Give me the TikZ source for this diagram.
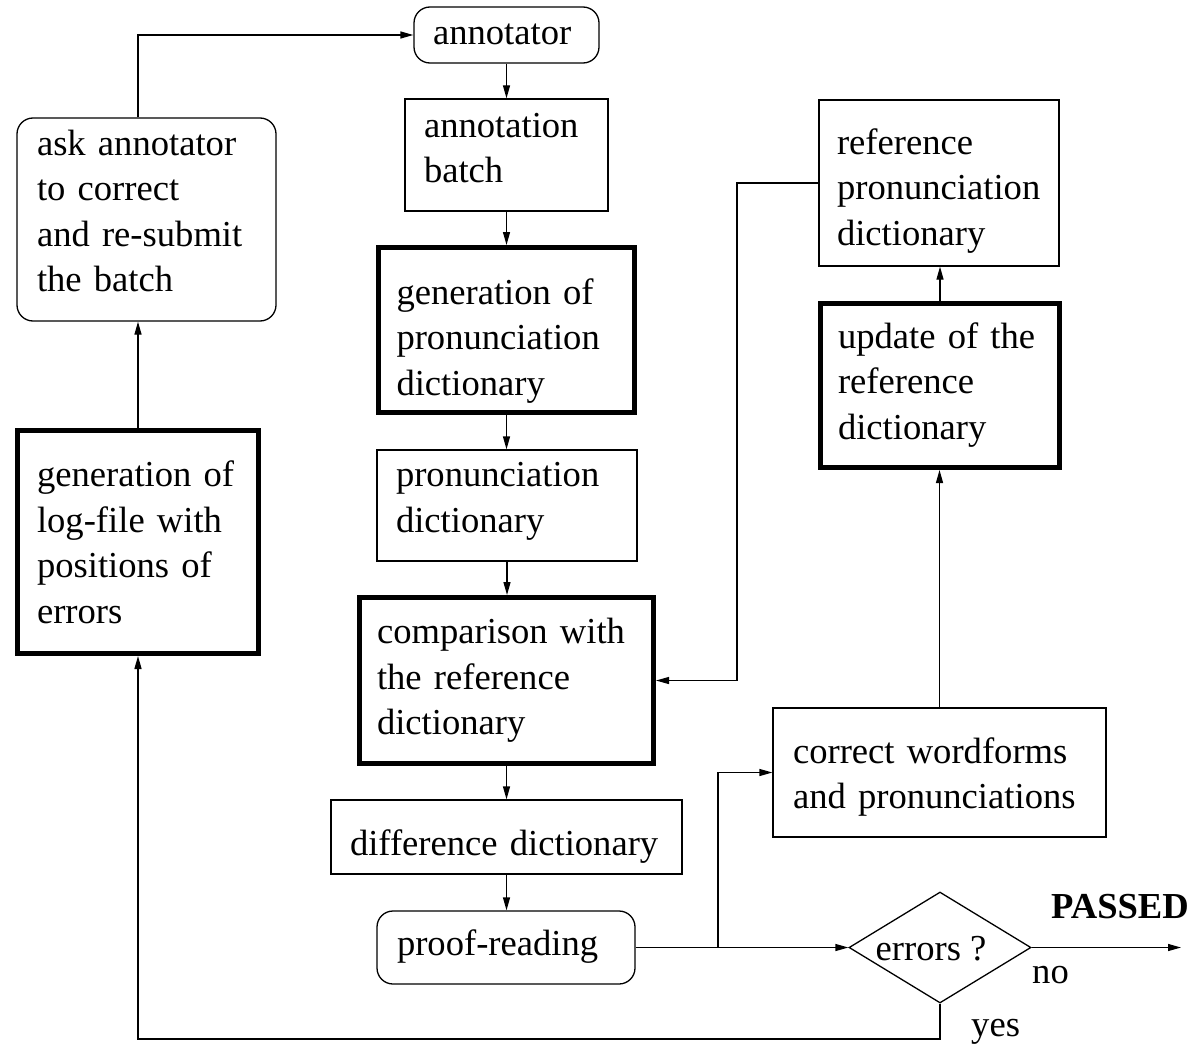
\documentclass[tikz,border=0pt]{standalone}
\usepackage{fontspec}
\setmainfont{Liberation Serif}
\usetikzlibrary{arrows.meta,shapes.geometric,calc}
\begin{document}
\begin{tikzpicture}[x=1pt,y=-1pt,
  every node/.style={font=\fontsize{36.6pt}{45.5pt}\selectfont},
  bx/.style={draw, line width=1.3pt, rectangle, align=left, inner ysep=0pt, inner xsep=19pt},
  thickbox/.style={line width=5pt},
  rnd/.style={rounded corners=16pt},
  up/.style={text height=0pt, text depth=#1},
  dn/.style={text height=#1, text depth=0pt},
  conn/.style={line width=1.3pt},
  arr/.style={conn, -{Triangle[length=13pt,width=7pt]}},
  lbl/.style={anchor=base west, inner sep=0pt},
]
\useasboundingbox (0,0) rectangle (1193,1046);

% central column
\node[bx,rnd,dn=20pt,text width=147pt,minimum height=56pt] (annot) at (506.5,35) {annotator};
\node[bx,up=36pt,text width=165pt,minimum height=112pt] (batch) at (506.5,155) {annotation\\batch};
\node[bx,thickbox,up=52pt,inner xsep=18pt,text width=220pt,minimum height=165pt] (genpron) at (506.5,330) {generation of\\pronunciation\\dictionary};
\node[bx,up=37.6pt,text width=222pt,minimum height=111pt] (pron) at (507,505.5) {pronunciation\\dictionary};
\node[bx,thickbox,up=74pt,inner xsep=17.5pt,text width=259pt,minimum height=166pt] (comp) at (506.5,680.5) {comparison with\\the reference\\dictionary};
\node[bx,dn=36pt,text width=313pt,minimum height=74pt] (diff) at (506.5,837) {difference dictionary};
\node[bx,rnd,dn=16.5pt,inner xsep=20pt,text width=218pt,minimum height=73pt] (proof) at (506,947.5) {proof-reading};

% left column
\node[bx,thickbox,up=110.6pt,inner xsep=19.5pt,text width=202pt,minimum height=223pt] (logf) at (138,542) {generation of\\log-file with\\positions of\\errors};
\node[bx,rnd,up=129pt,inner xsep=20pt,text width=219pt,minimum height=203pt] (ask) at (146.5,219.5) {ask annotator\\to correct\\and re-submit\\the batch};

% right column
\node[bx,up=57.4pt,inner xsep=18pt,text width=204pt,minimum height=166pt] (ref) at (939,183) {reference\\pronunciation\\dictionary};
\node[bx,thickbox,up=74.4pt,inner xsep=17.5pt,text width=204pt,minimum height=164pt] (upd) at (940,385.5) {update of the\\reference\\dictionary};
\node[bx,up=18.4pt,inner xsep=20pt,text width=293pt,minimum height=129pt] (corr) at (939.5,772.5) {correct wordforms\\and pronunciations};

% decision
\node[draw,line width=1.3pt,diamond,aspect=1.64,inner sep=0pt,dn=25pt,minimum width=182pt,minimum height=111pt] (dec) at (940,947.5) {errors ?\hspace*{18pt}};

% labels
\node[lbl,font=\fontsize{36.6pt}{45.5pt}\selectfont\bfseries] (passed) at (1051,918) {PASSED};
\node[lbl] (no) at (1032,983) {no};
\node[lbl] (yes) at (971,1036) {yes};

% coordinates
\coordinate (rj) at (737,183);
\coordinate (br) at (718,947.5);
\coordinate (pend) at (1181,947.5);
\coordinate (yb) at (940,1039);

% connectors
\draw[arr] (annot.south) -- (annot.south |- batch.north);
\draw[arr] (batch.south) -- (batch.south |- genpron.north);
\draw[arr] (genpron.south) -- (genpron.south |- pron.north);
\draw[arr] (pron.south) -- (pron.south |- comp.north);
\draw[arr] (comp.south) -- (comp.south |- diff.north);
\draw[arr] (diff.south) -- (diff.south |- proof.north);
\draw[arr] (proof.east) -- (dec.west);
\draw[arr] (br) |- (corr.west);
\draw[arr] (corr.north) -- (corr.north |- upd.south);
\draw[arr] (upd.north) -- (upd.north |- ref.south);
\draw[arr] (ref.west) -- (rj) |- (comp.east);
\draw[arr] (dec.east) -- (pend);
\draw[arr] (dec.south) -- (dec.south |- yb) -| (logf.south);
\draw[arr] (logf.north) -- (logf.north |- ask.south);
\draw[arr] (logf.north |- ask.north) |- (annot.west);
\end{tikzpicture}
\end{document}
